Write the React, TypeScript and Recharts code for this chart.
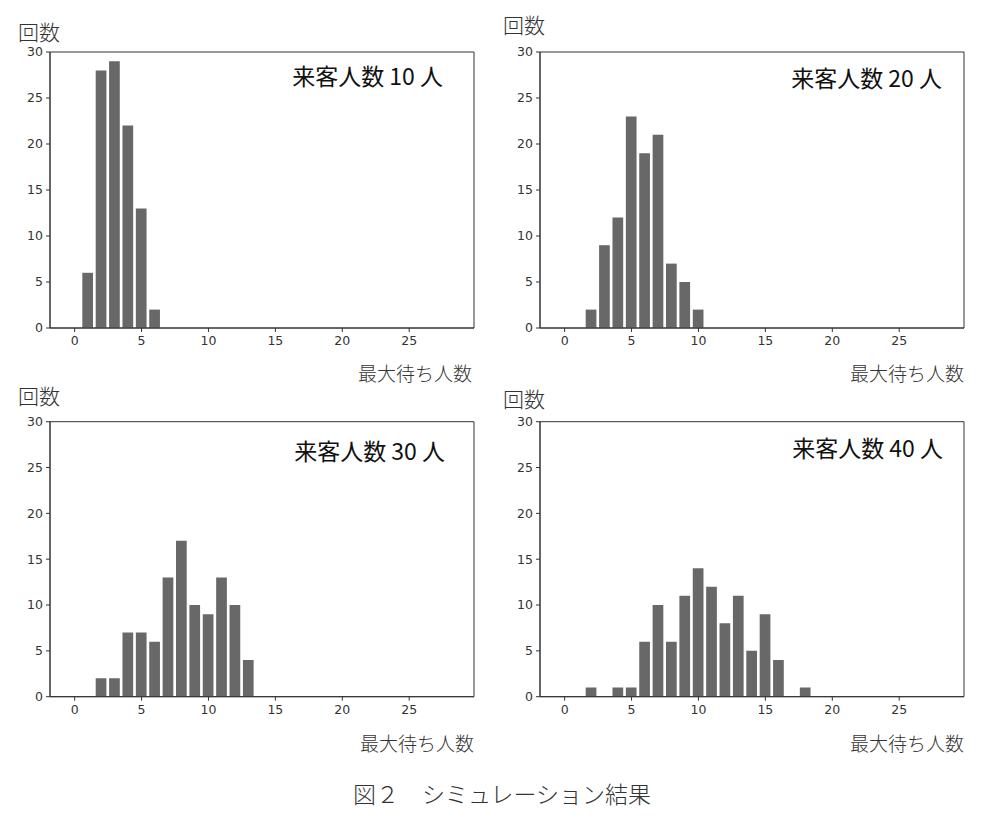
import React from 'react';
import { BarChart, Bar, XAxis, YAxis, ReferenceArea } from 'recharts';

const waitPeople = [0, 1, 2, 3, 4, 5, 6, 7, 8, 9, 10, 11, 12, 13, 14, 15, 16, 17, 18, 19, 20, 21, 22, 23, 24, 25, 26, 27, 28];
const counts10 = [0, 6, 28, 29, 22, 13, 2, 0, 0, 0, 0, 0, 0, 0, 0, 0, 0, 0, 0, 0, 0, 0, 0, 0, 0, 0, 0, 0, 0];
const counts20 = [0, 0, 2, 9, 12, 23, 19, 21, 7, 5, 2, 0, 0, 0, 0, 0, 0, 0, 0, 0, 0, 0, 0, 0, 0, 0, 0, 0, 0];
const counts30 = [0, 0, 2, 2, 7, 7, 6, 13, 17, 10, 9, 13, 10, 4, 0, 0, 0, 0, 0, 0, 0, 0, 0, 0, 0, 0, 0, 0, 0];
const counts40 = [0, 0, 1, 0, 1, 1, 6, 10, 6, 11, 14, 12, 8, 11, 5, 9, 4, 0, 1, 0, 0, 0, 0, 0, 0, 0, 0, 0, 0];

const panelTitles = ['来客人数 10 人', '来客人数 20 人', '来客人数 30 人', '来客人数 40 人'];
const xTicks = [0, 5, 10, 15, 20, 25];
const yTicks = [0, 5, 10, 15, 20, 25, 30];
const xDomain: [number, number] = [-1.84, 29.84];
const yDomain: [number, number] = [0, 30];
const yLabel = '回数';
const xLabel = '最大待ち人数';
const caption = '図２　シミュレーション結果';

const BAR_COLOR = '#686868';
const AXIS_COLOR = '#333333';
const CJK = '"Noto Sans CJK JP", "Noto Sans", sans-serif';
const TICK_FONT = '"DejaVu Sans", sans-serif';
const TICK_SIZE_PX = 12.5;
const TICK_STYLE = { fill: '#333', fontSize: TICK_SIZE_PX, fontFamily: TICK_FONT, style: { fontSize: TICK_SIZE_PX, fontFamily: TICK_FONT } };

const CHART_W = 490;
const PLOT_W = 424;
const BAR_SIZE = (0.8 * PLOT_W) / (xDomain[1] - xDomain[0]);

type PanelProps = {
  counts: number[];
  left: number;
  top: number;
  marginTop: number;
  height: number;
};

function Panel({ counts, left, top, marginTop, height }: PanelProps) {
  const data = waitPeople.map((x, i) => ({ x, count: counts[i] }));
  return (
    <div style={{ position: 'absolute', left, top, fontSize: TICK_SIZE_PX, fontFamily: TICK_FONT }}>
      <BarChart
        width={CHART_W}
        height={height}
        data={data}
        margin={{ top: marginTop, right: 16, bottom: 0, left: 0 }}
        style={{ fontSize: TICK_SIZE_PX, fontFamily: TICK_FONT }}
      >
        <XAxis
          dataKey="x"
          type="number"
          domain={xDomain}
          allowDataOverflow
          ticks={xTicks}
          interval={0}
          height={30}
          tickSize={4}
          tickMargin={4}
          stroke={AXIS_COLOR}
          fontSize={TICK_SIZE_PX}
          tick={TICK_STYLE}
        />
        <YAxis
          type="number"
          domain={yDomain}
          ticks={yTicks}
          interval={0}
          width={50}
          tickSize={4}
          tickMargin={3}
          stroke={AXIS_COLOR}
          fontSize={TICK_SIZE_PX}
          tick={TICK_STYLE}
        />
        <Bar dataKey="count" fill={BAR_COLOR} barSize={BAR_SIZE} isAnimationActive={false} />
        <ReferenceArea
          x1={xDomain[0]}
          x2={xDomain[1]}
          y1={yDomain[0]}
          y2={yDomain[1]}
          fill="none"
          fillOpacity={0}
          stroke={AXIS_COLOR}
          strokeWidth={1}
          ifOverflow="visible"
        />
      </BarChart>
    </div>
  );
}

export default function App() {
  return (
    <div style={{ position: 'absolute', left: 0, top: 0, width: 1000, height: 820, background: '#fff' }}>
      <Panel counts={counts10} left={0} top={0} marginTop={52} height={358} />
      <Panel counts={counts20} left={490} top={0} marginTop={52} height={358} />
      <Panel counts={counts30} left={0} top={370} marginTop={51.7} height={356.7} />
      <Panel counts={counts40} left={490} top={370} marginTop={51.7} height={356.7} />
      <svg
        width={1000}
        height={820}
        style={{ position: 'absolute', left: 0, top: 0, pointerEvents: 'none' }}
      >
        <g fontFamily={CJK} fill="#333" fontWeight={300}>
          <text x={18} y={31} fontSize={21} dominantBaseline="central">{yLabel}</text>
          <text x={503} y={24} fontSize={21} dominantBaseline="central">{yLabel}</text>
          <text x={18} y={395} fontSize={21} dominantBaseline="central">{yLabel}</text>
          <text x={503} y={398} fontSize={21} dominantBaseline="central">{yLabel}</text>

          <text x={472} y={372} fontSize={19} textAnchor="end" dominantBaseline="central">{xLabel}</text>
          <text x={964} y={372} fontSize={19} textAnchor="end" dominantBaseline="central">{xLabel}</text>
          <text x={474} y={742} fontSize={19} textAnchor="end" dominantBaseline="central">{xLabel}</text>
          <text x={964} y={742} fontSize={19} textAnchor="end" dominantBaseline="central">{xLabel}</text>

          <text x={443} y={75} fontSize={23} fontWeight={400} textAnchor="end" dominantBaseline="central" fill="#111">{panelTitles[0]}</text>
          <text x={942} y={77} fontSize={23} fontWeight={400} textAnchor="end" dominantBaseline="central" fill="#111">{panelTitles[1]}</text>
          <text x={445} y={450} fontSize={23} fontWeight={400} textAnchor="end" dominantBaseline="central" fill="#111">{panelTitles[2]}</text>
          <text x={943} y={447} fontSize={23} fontWeight={400} textAnchor="end" dominantBaseline="central" fill="#111">{panelTitles[3]}</text>

          <text x={353} y={793} fontSize={23} dominantBaseline="central">{caption}</text>
        </g>
      </svg>
    </div>
  );
}
